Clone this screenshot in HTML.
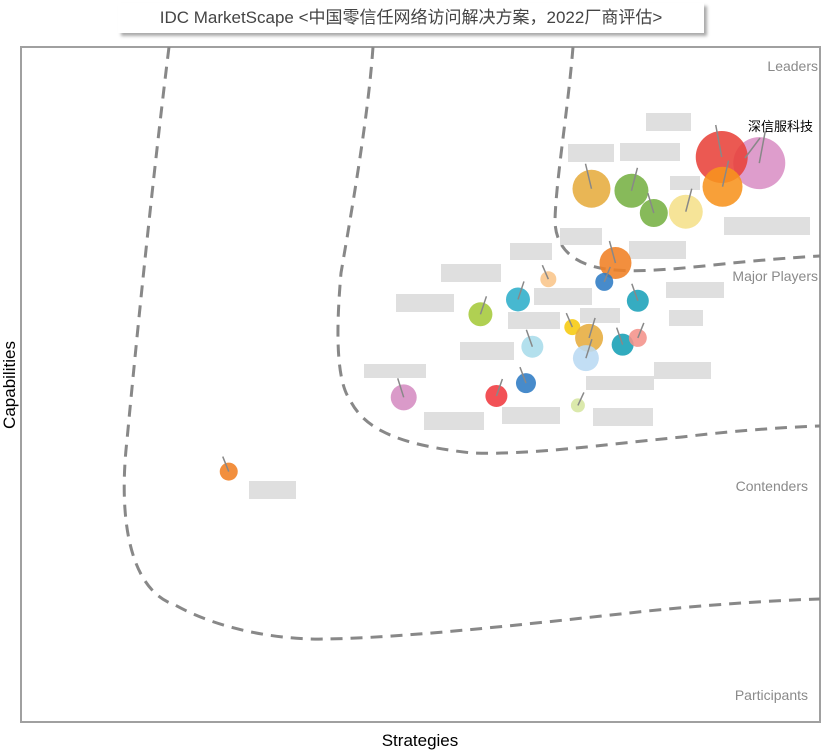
<!DOCTYPE html>
<html><head><meta charset="utf-8">
<style>
html,body{margin:0;padding:0;background:#fff;width:822px;height:750px;overflow:hidden}
#title{position:absolute;left:118px;top:3px;width:586px;height:30px;box-shadow:3px 3px 3px #aaa;background:#fff;font-family:"Liberation Sans","Noto Sans CJK SC",sans-serif;font-size:17px;color:#444;line-height:30px;text-align:center;white-space:nowrap}
svg{position:absolute;left:0;top:0}
</style></head><body>
<div id="title">IDC MarketScape &lt;中国零信任网络访问解决方案，2022厂商评估&gt;</div>
<svg id="chart" width="822" height="750">
<rect x="21" y="47" width="799" height="675" fill="none" stroke="#a0a0a0" stroke-width="2"/>
<g fill="none" stroke="#888" stroke-width="3" stroke-dasharray="12 8">
<path d="M169,47 C160,120 145,250 127,440 C118,520 130,590 175,605 C220,630 280,640 325,639 C400,638 520,625 629,613 C700,605 780,600 820,599"/>
<path d="M373,47 C368,120 350,220 341,273 C336,330 336,380 350,400 C365,430 400,445 472,453 C530,455 600,445 682,437 C740,430 790,427 820,426"/>
<path d="M573,47 C568,110 556,180 555,220 C555,245 570,262 600,268 C620,272 650,272 713,265 C760,260 800,257 820,256"/>
</g>
<g font-family="Liberation Sans, sans-serif" font-size="14" fill="#8a8a8a" text-anchor="end">
<text x="818" y="71">Leaders</text>
<text x="818" y="281">Major Players</text>
<text x="808" y="491">Contenders</text>
<text x="808" y="700">Participants</text>
</g>
<text x="420" y="746" font-family="Liberation Sans, sans-serif" font-size="17" text-anchor="middle" fill="#000">Strategies</text>
<text transform="translate(15,385) rotate(-90)" font-family="Liberation Sans, sans-serif" font-size="17" text-anchor="middle" fill="#000">Capabilities</text>
<g fill="#dcdcdc" opacity="0.9">
<rect x="646" y="113" width="45" height="18"/><rect x="568" y="144" width="46" height="18"/><rect x="620" y="143" width="60" height="18"/>
<rect x="670" y="176" width="30" height="14"/><rect x="724" y="217" width="86" height="18"/><rect x="560" y="228" width="42" height="17"/>
<rect x="629" y="241" width="57" height="18"/><rect x="510" y="243" width="42" height="17"/><rect x="441" y="264" width="60" height="18"/>
<rect x="534" y="288" width="58" height="17"/><rect x="396" y="294" width="58" height="18"/><rect x="666" y="282" width="58" height="16"/>
<rect x="508" y="312" width="52" height="17"/><rect x="580" y="308" width="40" height="15"/><rect x="669" y="310" width="34" height="16"/>
<rect x="460" y="342" width="54" height="18"/><rect x="654" y="362" width="57" height="17"/><rect x="364" y="364" width="62" height="14"/>
<rect x="586" y="376" width="68" height="14"/><rect x="424" y="412" width="60" height="18"/><rect x="502" y="407" width="58" height="17"/>
<rect x="593" y="408" width="60" height="18"/><rect x="249" y="481" width="47" height="18"/>
</g>
<g id="bubbles"></g>
<g id="leaders-text"><text x="748" y="131" font-family="Liberation Sans, Noto Sans CJK SC, sans-serif" font-size="13" fill="#000">深信服科技</text>
<line x1="760" y1="138" x2="745" y2="158" stroke="#888" stroke-width="1.5"/></g>
</svg>
<script>
// strategies (0-1), capabilities (0-1), size, color
const strategies=[0.924,0.877,0.878,0.714,0.764,0.792,0.832,0.744,0.730,0.660,0.622,0.772,0.575,0.690,0.711,0.753,0.772,0.640,0.707,0.479,0.595,0.632,0.697,0.260];
const capabilities=[0.828,0.837,0.793,0.790,0.787,0.754,0.756,0.680,0.652,0.656,0.626,0.624,0.604,0.585,0.569,0.559,0.569,0.556,0.539,0.481,0.483,0.502,0.469,0.371];
const sizes=[26,26,20,19,17,14,17,16,9,8,12,11,12,8,14,11,9,11,13,13,11,10,7,9];
const colors=['#d98fc5','#e8423a','#f7931e','#e6ac3d','#76b043','#76b043','#f5e08a','#f07f23','#2e7bc4','#f9c58a','#2eaec9','#1aa0b8','#a5c93a','#f6c90e','#e6ac3d','#159fb5','#f4928a','#a8dcea','#b9daf2','#d58cc2','#f0393f','#2e7bc4','#d6e6a0','#f07f23'];
const x0=21,x1=820,y0=722,y1=47;
const xs=v=>x0+v*(x1-x0), ys=v=>y0-v*(y0-y1);
const g=document.getElementById('bubbles');
const NS='http://www.w3.org/2000/svg';
strategies.forEach((s,i)=>{
 const c=document.createElementNS(NS,'circle');
 c.setAttribute('cx',xs(s));c.setAttribute('cy',ys(capabilities[i]));
 c.setAttribute('r',sizes[i]);c.setAttribute('fill',colors[i]);c.setAttribute('fill-opacity','0.88');
 
 
 g.appendChild(c);
 const l=document.createElementNS(NS,'line');
 l.setAttribute('x1',xs(s));l.setAttribute('y1',ys(capabilities[i]));
 l.setAttribute('x2',xs(s)+(i%2?-6:6));l.setAttribute('y2',ys(capabilities[i])-sizes[i]-6);
 l.setAttribute('stroke','#888');l.setAttribute('stroke-width','1.5');
 
 
 g.appendChild(l);
});
</script>
</body></html>
